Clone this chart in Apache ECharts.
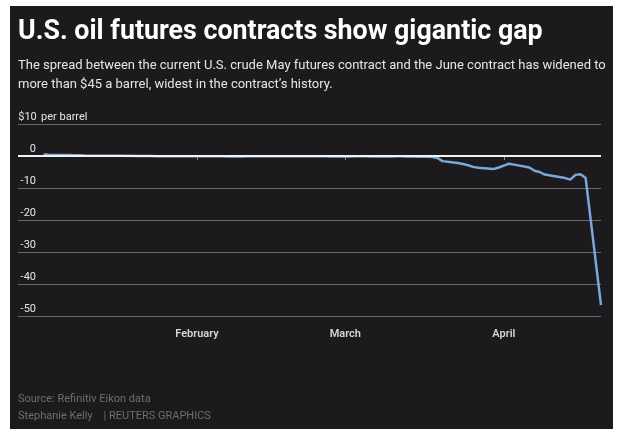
<!DOCTYPE html>
<html>
<head>
<meta charset="utf-8">
<script src="https://cdn.jsdelivr.net/npm/echarts@6/dist/echarts.min.js"></script>
<style>
  html, body { margin: 0; padding: 0; background: #ffffff; }
  #chart { width: 620px; height: 434px; }
</style>
</head>
<body>
<div id="chart"></div>
<script>
// trading days, Jan 2 - Apr 20 2020
const janDays = [2, 3, 6, 7, 8, 9, 10, 13, 14, 15, 16, 17, 21, 22, 23, 24, 27, 28, 29, 30, 31];
const febDays = [3, 4, 5, 6, 7, 10, 11, 12, 13, 14, 18, 19, 20, 21, 24, 25, 26, 27, 28];
const marDays = [2, 3, 4, 5, 6, 9, 10, 11, 12, 13, 16, 17, 18, 19, 20, 23, 24, 25, 26, 27, 30, 31];
const aprDays = [1, 2, 3, 6, 7, 8, 9, 13, 14, 15, 16, 17, 20];

// May minus June spread, $ per barrel
const janSpread = [0.45, 0.4, 0.35, 0.3, 0.25, 0.2, 0.15, 0.1, 0.1, 0.05, 0.05, 0.05, 0, 0, 0, -0.05, -0.05, -0.05, -0.05, -0.1, -0.1];
const febSpread = [-0.1, -0.1, -0.1, -0.1, -0.15, -0.15, -0.1, -0.1, -0.05, -0.05, -0.05, -0.1, -0.05, -0.05, -0.1, -0.1, -0.1, -0.15, -0.15];
const marSpread = [-0.15, -0.1, -0.1, -0.1, -0.15, -0.15, -0.15, -0.1, -0.1, -0.15, -0.2, -0.25, -0.35, -0.6, -1.6, -2.2, -2.5, -2.9, -3.4, -3.7, -4.1, -3.6];
const aprSpread = [-3.0, -2.4, -2.7, -3.6, -4.6, -5.0, -5.8, -6.9, -7.4, -5.9, -5.7, -6.9, -46.6];

const yTicks = { min: -50, max: 10, step: 10 };
const monthStarts = [[2020, 1, 1], [2020, 2, 1], [2020, 3, 1]];
const monthNames = ['January', 'February', 'March', 'April'];

const day = (y, m, d) => new Date(y, m, d).getTime();
const monthTicks = monthStarts.map(([y, m, d]) => day(y, m, d));

const points = [];
[[0, janDays, janSpread], [1, febDays, febSpread], [2, marDays, marSpread], [3, aprDays, aprSpread]].forEach(([m, days, vals]) => {
  days.forEach((d, i) => points.push([day(2020, m, d), vals[i]]));
});

const chart = echarts.init(document.getElementById('chart'));

const bodyFont = 'Roboto, "Noto Sans", sans-serif';

chart.setOption({
  backgroundColor: '#ffffff',
  animation: false,
  graphic: [
    { type: 'rect', left: 10, top: 6, shape: { width: 603, height: 423 }, style: { fill: '#1c1a1d' }, z: -10 },
    {
      type: 'text', left: 18, top: 19,
      style: { text: 'U.S. oil futures contracts show gigantic gap', fill: '#ffffff', font: 'bold 26.8px Roboto, sans-serif' }
    },
    {
      type: 'text', left: 18, top: 56,
      style: {
        text: 'The spread between the current U.S. crude May futures contract and the June contract has widened to\nmore than $45 a barrel, widest in the contract\u2019s history.',
        fill: '#e6e6e6', font: '13px ' + bodyFont, lineHeight: 19
      }
    },
    {
      type: 'text', left: 18, top: 394,
      style: { text: 'Source: Refinitiv Eikon data', fill: '#6e6e6e', font: '11px ' + bodyFont }
    },
    {
      type: 'text', left: 18, top: 411,
      style: { text: 'Stephanie Kelly    | REUTERS GRAPHICS', fill: '#6e6e6e', font: '11px ' + bodyFont }
    }
  ],
  grid: { left: 18, right: 19, top: 124, height: 192, containLabel: false },
  xAxis: {
    type: 'value',
    min: day(2019, 11, 28),
    max: day(2020, 3, 20),
    axisLine: { show: false },
    splitLine: { show: false },
    axisTick: { show: true, customValues: monthTicks, length: 4, lineStyle: { color: '#8a8a8a', width: 1 } },
    axisLabel: {
      customValues: monthTicks,
      formatter: (v) => monthNames[new Date(v).getMonth()],
      color: '#d6d6d6', fontSize: 11, fontWeight: 600, fontFamily: bodyFont, margin: 13
    }
  },
  yAxis: {
    type: 'value',
    min: yTicks.min,
    max: yTicks.max,
    interval: yTicks.step,
    axisLine: { show: false },
    axisTick: { show: false },
    splitLine: { lineStyle: { color: '#6a6a6a', width: 1.2 } },
    axisLabel: {
      inside: true,
      margin: 1,
      verticalAlign: 'bottom',
      padding: [0, 0, 1, 0],
      color: '#e6e6e6',
      fontSize: 11,
      fontFamily: bodyFont,
      formatter: (v) => (v === yTicks.max ? '{n|$' + v + '}{u|per barrel}' : '{n|' + v + '}'),
      rich: {
        n: { width: 17, align: 'right', fontSize: 11, color: '#e6e6e6', fontFamily: bodyFont },
        u: { padding: [0, 0, 0, 5], fontSize: 11, color: '#e6e6e6', fontFamily: bodyFont }
      }
    }
  },
  series: [
    {
      name: 'zero',
      type: 'line',
      data: [],
      z: 4,
      markLine: {
        silent: true, symbol: 'none', label: { show: false },
        lineStyle: { color: '#f2f2f2', width: 2, type: 'solid' },
        data: [{ yAxis: 0 }]
      }
    },
    {
      name: 'May-June spread',
      type: 'line',
      data: points,
      z: 3,
      showSymbol: false,
      lineStyle: { color: '#7aa8d8', width: 2.5 },
      itemStyle: { color: '#7aa8d8' }
    }
  ]
});
</script>
</body>
</html>
